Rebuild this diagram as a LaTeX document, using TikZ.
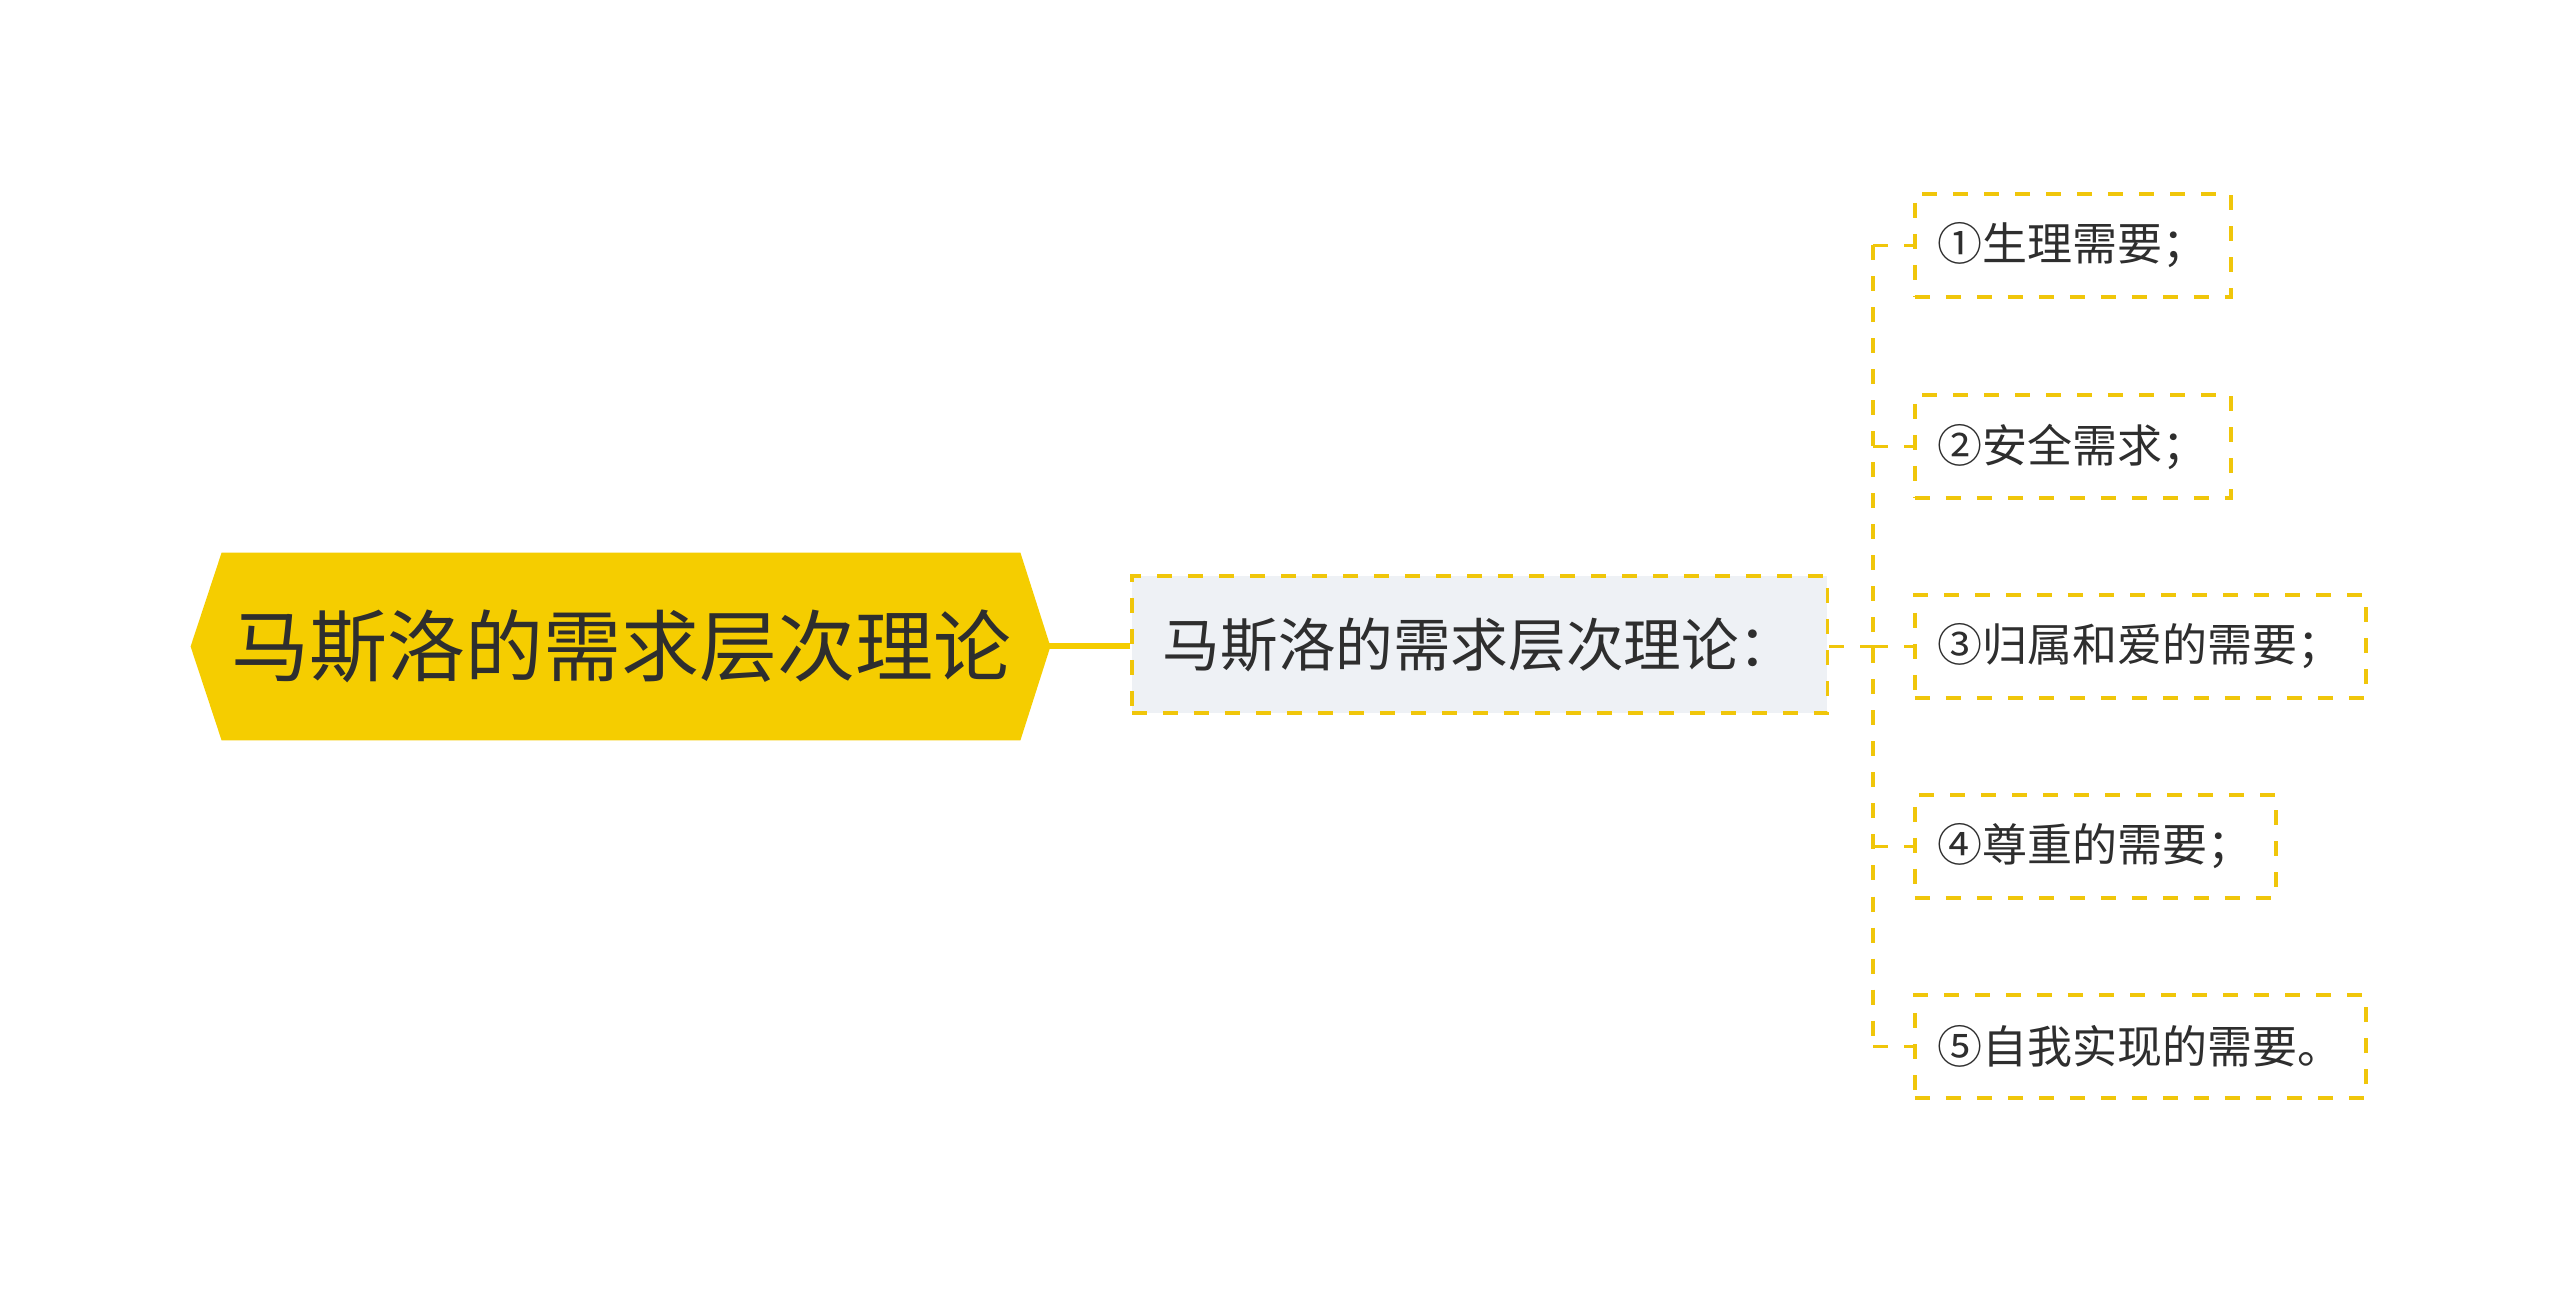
\documentclass[tikz,border=0pt]{standalone}
\usepackage{fontspec}
\setmainfont{Noto Sans CJK SC}
\usetikzlibrary{calc,backgrounds}
\definecolor{myyellow}{HTML}{F5CD00}
\definecolor{dashyellow}{HTML}{F0C60A}
\definecolor{subfill}{HTML}{EEF1F5}
\definecolor{txt}{HTML}{2E2E2E}
\begin{document}
\begin{tikzpicture}[x=0.5pt,y=-0.5pt,
  rootnode/.style={inner sep=0pt, minimum width=399pt, minimum height=93.5pt,
    font=\fontsize{39pt}{39pt}\selectfont, text=txt},
  subnode/.style={draw=dashyellow, fill=subfill, line width=1.8pt,
    dash pattern=on 7.5pt off 8pt, inner xsep=15.5pt, inner ysep=0pt,
    minimum height=68.5pt, font=\fontsize{28.8pt}{28.8pt}\selectfont, text=txt},
  leaf/.style={draw=dashyellow, fill=white, line width=1.8pt,
    dash pattern=on 7.5pt off 8pt, inner xsep=11.5pt, inner ysep=0pt,
    minimum height=51.5pt, anchor=west,
    font=\fontsize{22.5pt}{22.5pt}\selectfont, text=txt},
  link/.style={draw=dashyellow, line width=1.8pt, dash pattern=on 7.5pt off 8pt},
  rootlink/.style={draw=myyellow, line width=3pt}
]
\useasboundingbox (0,0) rectangle (2560,1293);
\node[rootnode] (root) at (621,646.5) {马斯洛的需求层次理论};
\node[subnode, anchor=west] (sub) at (1130,644.5) {马斯洛的需求层次理论：};
\node[leaf] (l1) at (1913,245.5) {①生理需要；};
\node[leaf] (l2) at (1913,446.5) {②安全需求；};
\node[leaf] (l3) at (1913,646.5) {③归属和爱的需要；};
\node[leaf] (l4) at (1913,846.5) {④尊重的需要；};
\node[leaf] (l5) at (1913,1046.5) {⑤自我实现的需要。};
\coordinate (trunk) at (1873,646.5);
\begin{scope}[on background layer]
  \fill[myyellow] (root.north west) -- (root.north east) -- ($(root.east)+(30,0)$)
    -- (root.south east) -- (root.south west) -- ($(root.west)+(-31,0)$) -- cycle;
  \draw[rootlink] (root.east) -- (root.east -| sub.west);
\end{scope}
\draw[link] (sub.east |- trunk) -- (trunk);
\draw[link] (trunk |- l1.west) -- (trunk |- l5.west);
\foreach \n in {l1,l2,l3,l4,l5}{
  \draw[link] (trunk |- \n.west) -- (\n.west);
}
\end{tikzpicture}
\end{document}
